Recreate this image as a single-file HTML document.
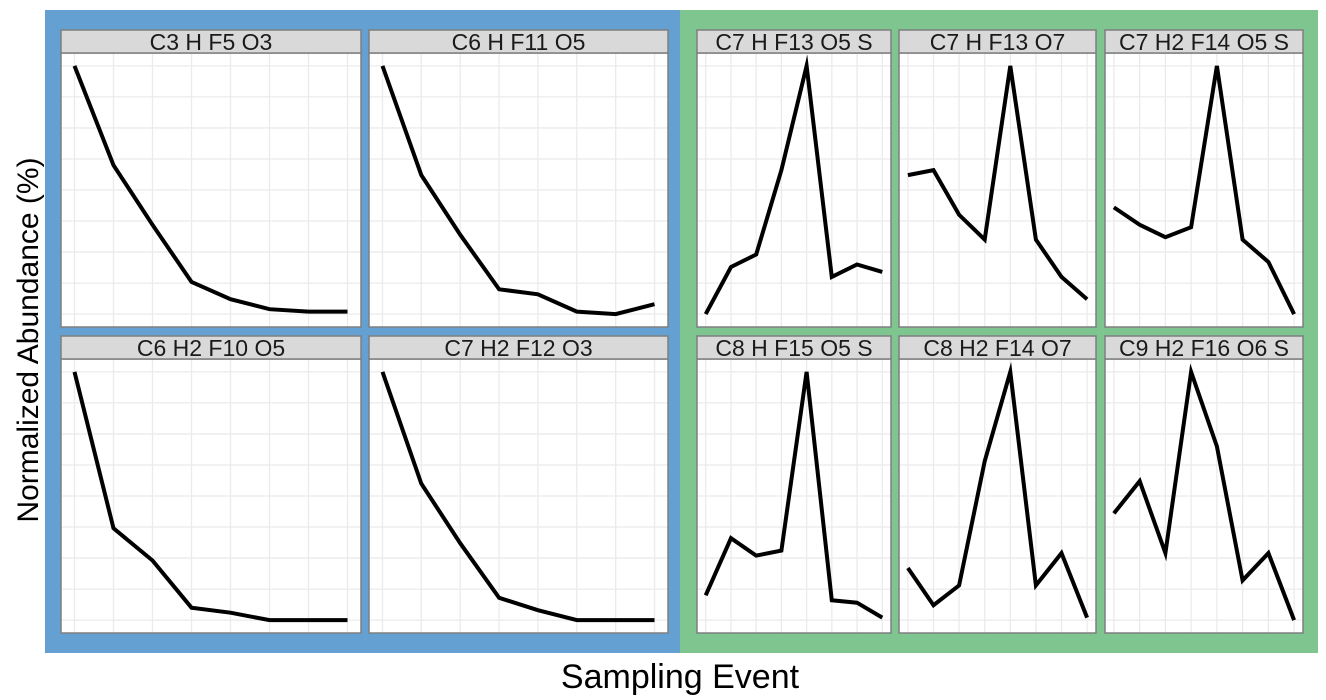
<!DOCTYPE html>
<html><head><meta charset="utf-8"><style>
html,body{margin:0;padding:0;background:#fff;width:1326px;height:700px;overflow:hidden}
svg text{font-family:"Liberation Sans",sans-serif}
</style></head><body>
<svg id="chart" width="1326" height="700" xmlns="http://www.w3.org/2000/svg">
<rect x="45" y="10" width="636" height="643" fill="#64a1d2"/>
<rect x="680" y="10" width="638" height="643" fill="#7ec590"/>
<text transform="translate(38,340) rotate(-90)" text-anchor="middle" font-size="30" fill="#000">Normalized Abundance (%)</text>
<text x="680" y="688" text-anchor="middle" font-size="34" fill="#000">Sampling Event</text>
<g id="panels"></g>
</svg>
<script>
const events = [1,2,3,4,5,6,7,8];
const titles = ["C3 H F5 O3","C6 H F11 O5","C7 H F13 O5 S","C7 H F13 O7","C7 H2 F14 O5 S",
"C6 H2 F10 O5","C7 H2 F12 O3","C8 H F15 O5 S","C8 H2 F14 O7","C9 H2 F16 O6 S"];
const s1 = [100,60,36,13,6,2,1,1];
const s2 = [100,56,32,10,8,1,0,4];
const s3 = [0,19,24,58,100,15,20,17];
const s4 = [56,58,40,30,100,30,15,6];
const s5 = [43,36,31,35,100,30,21,0];
const s6 = [100,37,24,5,3,0,0,0];
const s7 = [100,55,31,9,4,0,0,0];
const s8 = [10,33,26,28,100,8,7,1];
const s9 = [21,6,14,64,100,14,27,1];
const s10 = [43,56,27,100,70,16,27,0];
const series = [s1,s2,s3,s4,s5,s6,s7,s8,s9,s10];

const NS="http://www.w3.org/2000/svg";
const g=document.getElementById('panels');
function mk(tag,attrs,parent){const e=document.createElementNS(NS,tag);for(const k in attrs)e.setAttribute(k,attrs[k]);(parent||g).appendChild(e);return e;}
const cols=[[61,361],[369,668],[697,891],[899,1096],[1105,1303]];
const layout=[[0,0],[1,0],[2,0],[3,0],[4,0],[0,1],[1,1],[2,1],[3,1],[4,1]];
const rows=[[30,53,327],[336,359,633]];
series.forEach((vals,i)=>{
  const [c,r]=layout[i];
  const [x0,x1]=cols[c];const [sy,py0,py1]=rows[r];
  const w=x1-x0,h=py1-py0;
  const padX=w*0.045,padY=h*0.047;
  const xs=v=>x0+padX+(v-1)/(events.length-1)*(w-2*padX);
  const ys=v=>py1-padY-v/100*(h-2*padY);
  const pg=mk('g',{});
  
  
  mk('rect',{x:x0,y:py0,width:w,height:h,fill:'#fff'},pg);
  for(let k=0;k<events.length;k++){const x=xs(events[k]);mk('line',{x1:x,x2:x,y1:py0,y2:py1,stroke:'#ebebeb','stroke-width':1.3},pg);}
  for(let v=0;v<=100;v+=12.5){const y=ys(v);mk('line',{x1:x0,x2:x1,y1:y,y2:y,stroke:'#ebebeb','stroke-width':1.3},pg);}
  const pts=vals.map((v,k)=>xs(events[k]).toFixed(1)+','+ys(v).toFixed(1)).join(' ');
  const line=mk('polyline',{points:pts,fill:'none',stroke:'#000','stroke-width':4,'stroke-linejoin':'miter','stroke-miterlimit':6},pg);
  
  
  mk('rect',{x:x0,y:py0,width:w,height:h,fill:'none',stroke:'#7f7f7f','stroke-width':1.5},pg);
  const st=mk('rect',{x:x0,y:sy,width:w,height:py0-sy,fill:'#d9d9d9',stroke:'#7f7f7f','stroke-width':1.5},pg);
  
  
  const t=mk('text',{x:(x0+x1)/2,y:sy+20,'text-anchor':'middle','font-size':23,fill:'#1a1a1a'},pg);
  
  
  t.textContent=titles[i];
});
</script>
</body></html>
